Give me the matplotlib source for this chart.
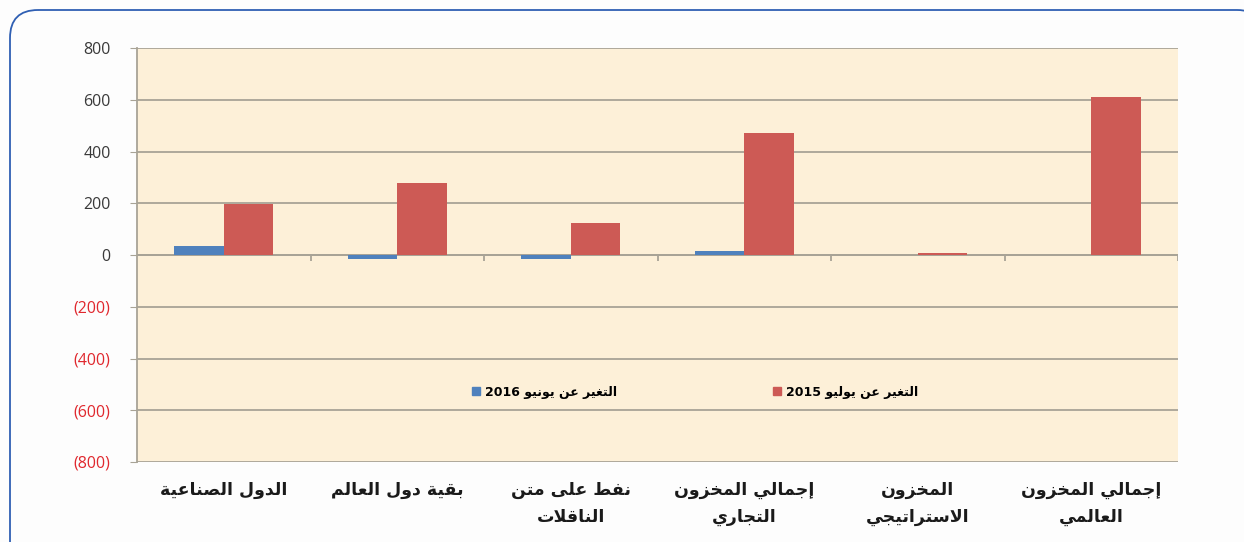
import unicodedata
import numpy as np
import matplotlib
matplotlib.use("Agg")
import matplotlib.pyplot as plt
from matplotlib.patches import FancyBboxPatch, Patch

categories = ["الدول الصناعية", "بقية دول العالم", "نفط على متن\nالناقلات",
              "إجمالي المخزون\nالتجاري", "المخزون\nالاستراتيجي", "إجمالي المخزون\nالعالمي"]
change_jun16 = [35, -15, -15, 15, 0, 0]
change_jul15 = [198, 280, 125, 470, 8, 612]
series_names = ["التغير عن يونيو 2016", "التغير عن يوليو 2015"]
y_ticks = [-800, -600, -400, -200, 0, 200, 400, 600, 800]


# matplotlib has no arabic shaping, so pick presentation forms by hand
def _form(ch, kind):
    try:
        return unicodedata.lookup(unicodedata.name(ch) + " " + kind + " FORM")
    except (KeyError, ValueError):
        return None


def _dual(ch):
    return _form(ch, "INITIAL") is not None


def _arabic(ch):
    return "\u0621" <= ch <= "\u064a"


def shape_word(txt):
    out = []
    i = 0
    n = len(txt)
    while i < n:
        ch = txt[i]
        if not _arabic(ch):
            out.append(ch)
            i += 1
            continue
        prev = txt[i - 1] if i > 0 else ""
        join_prev = bool(prev) and _arabic(prev) and _dual(prev)
        if ch == "\u0644" and i + 1 < n and txt[i + 1] in "\u0627\u0625\u0623":
            name = {"\u0627": "ALEF", "\u0625": "ALEF WITH HAMZA BELOW",
                    "\u0623": "ALEF WITH HAMZA ABOVE"}[txt[i + 1]]
            kind = "FINAL" if join_prev else "ISOLATED"
            out.append(unicodedata.lookup("ARABIC LIGATURE LAM WITH " + name + " " + kind + " FORM"))
            i += 2
            continue
        nxt = txt[i + 1] if i + 1 < n else ""
        join_next = _dual(ch) and bool(nxt) and _arabic(nxt)
        if join_prev and join_next:
            kind = "MEDIAL"
        elif join_prev:
            kind = "FINAL"
        elif join_next:
            kind = "INITIAL"
        else:
            kind = "ISOLATED"
        f = _form(ch, kind) or _form(ch, "ISOLATED") or ch
        out.append(f)
        i += 1
    return "".join(out)


def ar(text):
    lines = []
    for line in text.split("\n"):
        shaped = shape_word(line)
        # split into digit runs and the rest, then lay out right to left
        tokens = []
        cur = ""
        for ch in shaped:
            if cur and (ch.isdigit() != cur[-1].isdigit()):
                tokens.append(cur)
                cur = ""
            cur += ch
        if cur:
            tokens.append(cur)
        vis = [t if t[0].isdigit() else t[::-1] for t in reversed(tokens)]
        lines.append("".join(vis))
    return "\n".join(lines)


plt.rcParams['font.family'] = ['DejaVu Sans']

fig = plt.figure(figsize=(12.44, 5.42), dpi=100)
fig.patch.set_facecolor('#fdfdfd')

# background axes in pixel units for the rounded blue frame
bg = fig.add_axes([0, 0, 1, 1], zorder=-1)
bg.set_xlim(0, 1244)
bg.set_ylim(542, 0)
bg.axis('off')
bg.add_patch(FancyBboxPatch((10, 10), 1255, 560,
                            boxstyle="round,pad=0,rounding_size=28",
                            facecolor='none', edgecolor='#2f5fb3', linewidth=1.3))

ax = fig.add_axes([137 / 1244, 1 - 462 / 542, 1041 / 1244, 414 / 542])
ax.set_facecolor('#fdf0d8')

x = np.arange(len(categories))
w = 0.285
ax.bar(x - w / 2, change_jun16, w, color='#4f81bd', zorder=3)
ax.bar(x + w / 2, change_jul15, w, color='#cd5a55', zorder=3)

ax.set_xlim(-0.5, len(categories) - 0.5)
ax.set_ylim(-800, 800)
ax.set_yticks(y_ticks)
ax.set_yticklabels([f"({abs(v)})" if v < 0 else str(v) for v in y_ticks],
                   fontsize=11.5, family='Open Sans')
for lab, v in zip(ax.get_yticklabels(), y_ticks):
    lab.set_color('#e0282e' if v < 0 else '#3a3a3a')
ax.yaxis.grid(True, color='#a8a396', linewidth=1.3, zorder=1)
ax.tick_params(axis='y', length=5, color='#a8a396', pad=14)

# category names sit under the plot, the x axis itself is drawn at zero
ax.set_xticks([])
for i, c in enumerate(categories):
    ax.text(i, -875, ar(c), ha='center', va='top', fontsize=12.5, fontweight='bold',
            color='#1a1a1a', linespacing=1.6)

ax.axhline(0, color='#a8a396', linewidth=1.3, zorder=2)
ax.vlines(np.arange(1, len(categories) + 1) - 0.5, -25, 0, color='#a8a396', linewidth=1.3, zorder=2)

for s in ['top', 'right', 'bottom']:
    ax.spines[s].set_visible(False)
ax.spines['left'].set_color('#a8a396')
ax.spines['left'].set_linewidth(1.3)

handles = [Patch(color='#4f81bd'), Patch(color='#cd5a55')]
ax.legend(handles, [ar(s) for s in series_names], ncol=2, loc='center',
          bbox_to_anchor=(0.536, 0.169), frameon=False, columnspacing=12.5,
          handlelength=0.6, handleheight=0.6, handletextpad=0.4,
          prop={'size': 9, 'weight': 'bold'})

fig.savefig("out.png", dpi=100, facecolor=fig.get_facecolor())
